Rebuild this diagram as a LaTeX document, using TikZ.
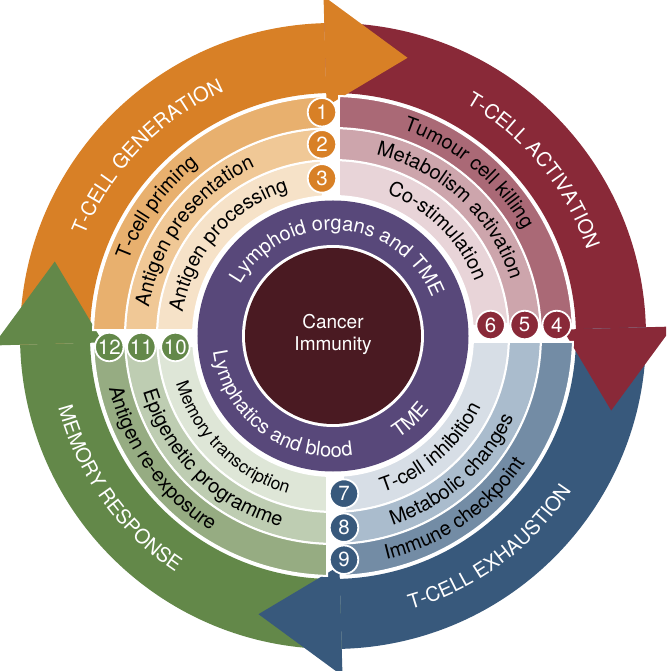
\documentclass[tikz,border=0pt]{standalone}
\usepackage{fontspec}
\setmainfont{TeX Gyre Heros}
\usetikzlibrary{decorations.text}

\definecolor{genorange}{HTML}{D88026}
\definecolor{genA}{HTML}{F6E2C8}
\definecolor{genB}{HTML}{F0C896}
\definecolor{genC}{HTML}{E8B06E}
\definecolor{actred}{HTML}{892938}
\definecolor{actA}{HTML}{E8D4D8}
\definecolor{actB}{HTML}{CDA5AC}
\definecolor{actC}{HTML}{AA6976}
\definecolor{exhblue}{HTML}{38597C}
\definecolor{exhA}{HTML}{D7DEE6}
\definecolor{exhB}{HTML}{AABCCD}
\definecolor{exhC}{HTML}{738CA5}
\definecolor{memgreen}{HTML}{638849}
\definecolor{memA}{HTML}{DEE6D7}
\definecolor{memB}{HTML}{BECDB2}
\definecolor{memC}{HTML}{96AC82}
\definecolor{tmepurple}{HTML}{58487A}
\definecolor{corered}{HTML}{4A1A22}

\newcommand{\labfont}{\fontsize{20}{24}\selectfont}
\newcommand{\smallfont}{\fontsize{17.5}{21}\selectfont}

% text on an arc, clockwise (top half) or counter-clockwise (bottom half)
\newcommand{\toplabel}[5]{%
  \path[decorate, decoration={text along path, text align=center, text={|#4|#5}}]
    ({#1+#2}:#3) arc[start angle={#1+#2}, end angle={#1-#2}, radius=#3];}
\newcommand{\botlabel}[5]{%
  \path[decorate, decoration={text along path, text align=center, text={|#4|#5}}]
    ({#1-#2}:#3) arc[start angle={#1-#2}, end angle={#1+#2}, radius=#3];}

\tikzset{
  band/.style={fill=#1, draw=white, line width=2pt},
  numdot/.style={circle, fill=#1, draw=white, line width=1.8pt, minimum size=28.5pt,
    inner sep=0pt, text=white, font=\fontsize{20.5}{20.5}\selectfont},
}

\begin{document}
\begin{tikzpicture}[x=1pt, y=1pt]
    \fill[white] (-333,-335) rectangle (333,336);
    \clip (-333,-335) rectangle (333,336);

    % arrow bodies, then heads
    \foreach \rot/\col in {0/actred, 90/genorange, 180/memgreen, 270/exhblue}{
        \fill[\col, rotate=\rot] (91.6:243) arc[start angle=91.6, end angle=1.6, radius=243]
            -- (1.6:313) arc[start angle=1.6, end angle=91.6, radius=313] -- cycle;
    }
    \foreach \rot/\col in {0/actred, 90/genorange, 180/memgreen, 270/exhblue}{
        \fill[\col, rotate=\rot] (1.6:230) -- (1.6:340) -- (-15:288) -- cycle;
    }

    % centre
    \fill[tmepurple] (0,0) circle[radius=135.5];
    \fill[white] (0,0) circle[radius=91];
    \fill[corered] (0,0) circle[radius=88];
    \node[text=white, font=\fontsize{19}{22}\selectfont, align=center] (core) at (0,2) {Cancer\\Immunity};

    % bands
    \foreach \rot/\ca/\cb/\cc in {0/actA/actB/actC, 90/genA/genB/genC, 180/memA/memB/memC, 270/exhA/exhB/exhC}{
        \foreach \ri/\ro/\rc/\cl in {140/176/158/\ca, 176/208/192/\cb, 208/240/224/\cc}{
            \pgfmathsetmacro\bandS{acos(6/\ro)}
            \pgfmathsetmacro\bandT{acos(6/\ri)}
            \pgfmathsetmacro\bandE{asin(11/\rc)}
            \path[band=\cl, rotate=\rot] (\bandS:\ro) arc[start angle=\bandS, end angle=\bandE, radius=\ro]
                -- (\bandE:\ri) arc[start angle=\bandE, end angle=\bandT, radius=\ri] -- cycle;
        }
    }

    % numbered dots
    \foreach \rot/\col/\na/\nb/\nc in {0/actred/6/5/4, 90/genorange/3/2/1, 180/memgreen/10/11/12, 270/exhblue/7/8/9}{
        \foreach \rc/\nm in {158/\na, 192/\nb, 224/\nc}{
            \pgfmathsetmacro\dotA{asin(11/\rc)+\rot}
            \node[numdot=\col] (n\nm) at (\dotA:\rc) {\nm};
        }
    }

    % arrow labels
    \toplabel{136}{40}{268}{\color{white}\labfont}{T-CELL GENERATION}
    \toplabel{39.5}{40}{268}{\color{white}\labfont}{T-CELL ACTIVATION}
    \botlabel{-53.5}{40}{284}{\color{white}\labfont}{T-CELL EXHAUSTION}
    \botlabel{215.5}{40}{284}{\color{white}\labfont}{MEMORY RESPONSE}

    % band labels
    \toplabel{143.9}{45}{218}{\labfont}{T-cell priming}
    \toplabel{143}{45}{186}{\labfont}{Antigen presentation}
    \toplabel{139}{45}{152}{\labfont}{Antigen processing}
    \toplabel{50.2}{45}{218}{\labfont}{Tumour cell killing}
    \toplabel{47}{45}{186}{\labfont}{Metabolism activation}
    \toplabel{45.2}{45}{152}{\labfont}{Co-stimulation}
    \botlabel{-49}{45}{164}{\labfont}{T-cell inhibition}
    \botlabel{-48.4}{45}{198}{\labfont}{Metabolic changes}
    \botlabel{-55}{45}{230}{\labfont}{Immune checkpoint}
    \botlabel{215.5}{45}{230}{\labfont}{Antigen re-exposure}
    \botlabel{225.5}{45}{198}{\labfont}{Epigenetic programme}
    \botlabel{225.4}{45}{164}{\smallfont}{Memory transcription}

    % ring labels
    \toplabel{86}{85}{106}{\color{white}\labfont}{Lymphoid organs and TME}
    \botlabel{233.5}{60}{121}{\color{white}\labfont}{Lymphatics and blood}
    \botlabel{312.6}{20}{121}{\color{white}\labfont}{TME}
\end{tikzpicture}
\end{document}
